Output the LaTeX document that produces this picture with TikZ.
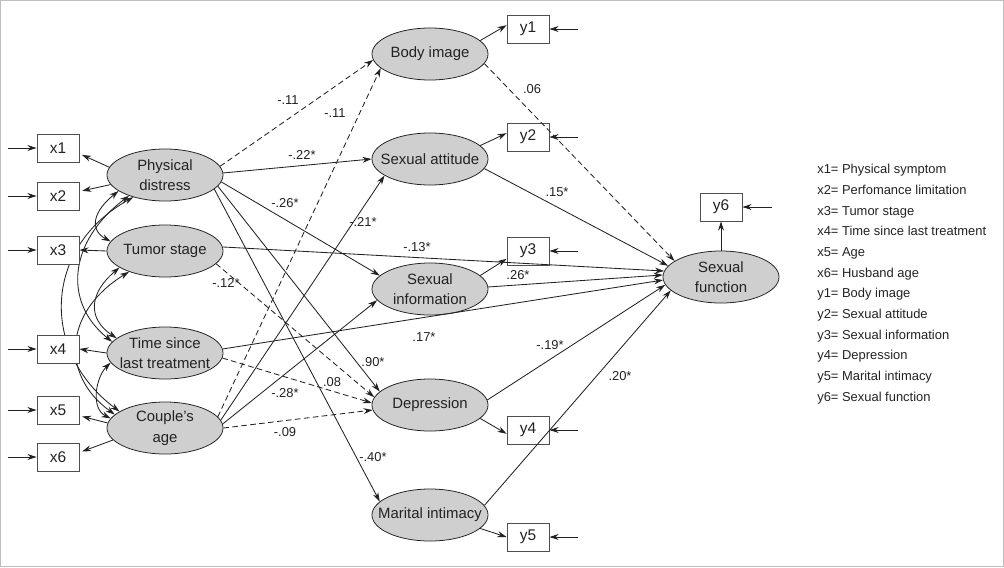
\documentclass[tikz,border=0pt]{standalone}
\usepackage{fontspec}
\setmainfont{Liberation Sans}
\definecolor{mFill}{HTML}{CFCFCF}
\definecolor{mInk}{HTML}{222222}
\definecolor{mFrame}{HTML}{BEBEBE}
\usetikzlibrary{arrows.meta,shapes.geometric,backgrounds}
\tikzset{
  lat/.style={ellipse, draw=mInk, fill=mFill, line width=0.55pt, minimum width=2.9cm, minimum height=1.3cm, inner xsep=-0.8cm, inner ysep=-0.3cm, align=center, font=\fontsize{10.6}{14.5}\selectfont, text=mInk},
  obs/.style={rectangle, draw=mInk!80, fill=white, line width=0.6pt, minimum width=1.05cm, minimum height=0.7cm, inner sep=0pt, font=\fontsize{11}{12}\selectfont, text=mInk},
  lbl/.style={inner sep=0pt, font=\fontsize{9.2}{11}\selectfont, text=mInk},
  eff/.style={-{Stealth[length=6.5pt,width=4.2pt]}, draw=mInk, line width=0.6pt},
  effd/.style={eff, dash pattern=on 4pt off 2.4pt},
  cov/.style={{Stealth[length=6.5pt,width=4.2pt]}-{Stealth[length=6.5pt,width=4.2pt]}, draw=mInk, line width=0.6pt}
}
\newcommand{\errarr}[3]{%
 \coordinate (e#1) at (#2);%
 \draw[eff] (e#1) -- (#1.#3);}

\begin{document}
\begin{tikzpicture}[x=0.025cm,y=-0.025cm]
\useasboundingbox (0,0) rectangle (1004,567);
\draw[mFrame, line width=1pt] (0.7,0.7) rectangle (1003.3,566.3);

\node[obs] (x1) at (58,148) {x1};
\node[obs] (x2) at (58,196) {x2};
\node[obs] (x3) at (58,250) {x3};
\node[obs] (x4) at (58,349) {x4};
\node[obs] (x5) at (58,410) {x5};
\node[obs] (x6) at (58,457) {x6};

\node[lat] (pd) at (165,175) {Physical\\distress};
\node[lat] (ts) at (165,251) {Tumor stage};
\node[lat] (tl) at (165,353) {Time since\\last treatment};
\node[lat] (ca) at (165,428) {Couple's\\age};

\node[lat] (bi) at (430,54) {Body image};
\node[lat] (sa) at (430,159) {Sexual attitude};
\node[lat] (si) at (430,289) {Sexual\\information};
\node[lat] (dep) at (430,405) {Depression};
\node[lat] (mi) at (430,515) {Marital intimacy};
\node[lat] (sf) at (721,277) {Sexual\\function};

\node[obs] (y1) at (528,29) {y1};
\node[obs] (y2) at (528,137) {y2};
\node[obs] (y3) at (528,251) {y3};
\node[obs] (y4) at (528,430) {y4};
\node[obs] (y5) at (528,537) {y5};
\node[obs] (y6) at (721,207) {y6};

\begin{pgfonlayer}{background}
\draw[cov] (pd.199) .. controls +(-25,20) and +(-22,-12) .. (ts.170);
\draw[cov] (pd.210) .. controls +(-60,45) and +(-50,-40) .. (tl.168);
\draw[cov] (pd.215) .. controls +(-90,50) and +(-80,-60) .. (ca.160);
\draw[cov] (ts.200) .. controls +(-30,25) and +(-30,-20) .. (tl.163);
\draw[cov] (ts.210) .. controls +(-65,40) and +(-55,-40) .. (ca.165);
\draw[cov] (tl.190) .. controls +(-15,15) and +(-20,-10) .. (ca.170);
\end{pgfonlayer}

\draw[eff, shorten >=2pt] (pd.172) -- (x1.345);
\draw[eff, shorten >=2pt] (pd.190) -- (x2.12);
\draw[eff] (ts.west) -- (x3.east);
\draw[eff] (tl.west) -- (x4.east);
\draw[eff, shorten >=2pt] (ca.175) -- (x5.345);
\draw[eff, shorten >=2pt] (ca.193) -- (x6.12);

\errarr{x1}{8,148}{west}
\errarr{x2}{8,196}{west}
\errarr{x3}{8,250}{west}
\errarr{x4}{8,349}{west}
\errarr{x5}{8,410}{west}
\errarr{x6}{8,457}{west}
\errarr{y1}{578,29}{east}
\errarr{y2}{578,137}{east}
\errarr{y3}{578,251}{east}
\errarr{y4}{578,430}{east}
\errarr{y5}{578,537}{east}
\errarr{y6}{772,207}{east}

\draw[effd] (pd.9) -- (bi.186);
\draw[eff] (pd.2) -- (sa.180);
\draw[eff] (pd.353) -- (si.165);
\draw[eff] (pd.348) -- (dep.165);
\draw[eff] (pd.344) -- (mi.165);
\draw[eff] (ts.4) -- (sf.174);
\draw[effd] (ts.346) -- (dep.172);
\draw[eff] (tl.4) -- (sf.183);
\draw[effd] (tl.355) -- (dep.178);
\draw[effd] (ca.12) -- (bi.196);
\draw[eff] (ca.8) -- (sa.200);
\draw[eff] (ca.4) -- (si.192);
\draw[effd] (ca.0) -- (dep.185);
\draw[effd] (bi.350) -- (sf.161);
\draw[eff] (sa.350) -- (sf.168);
\draw[eff] (si.2) -- (sf.178);
\draw[eff] (dep.5) -- (sf.188);
\draw[eff] (mi.10) -- (sf.195);

\draw[eff] (bi.15) -- (y1.170);
\draw[eff] (sa.15) -- (y2.170);
\draw[eff] (si.15) -- (y3.200);
\draw[eff] (dep.345) -- (y4.190);
\draw[eff] (mi.345) -- (y5.180);
\draw[eff] (sf.north) -- (y6.south);

\node[lbl] (w1) at (288,100) {-.11};
\node[lbl] (w2) at (335,113) {-.11};
\node[lbl] (w3) at (302,155) {-.22*};
\node[lbl] (w4) at (285,203) {-.26*};
\node[lbl] (w5) at (363,222) {-.21*};
\node[lbl] (w6) at (417,247) {-.13*};
\node[lbl] (w7) at (226,283) {-.12*};
\node[lbl] (w8) at (424,337) {.17*};
\node[lbl] (w9) at (373,362) {.90*};
\node[lbl] (w10) at (332,382) {.08};
\node[lbl] (w11) at (285,393) {-.28*};
\node[lbl] (w12) at (285,432) {-.09};
\node[lbl] (w13) at (373,457) {-.40*};
\node[lbl] (w14) at (532,89) {.06};
\node[lbl] (w15) at (557,192) {.15*};
\node[lbl] (w16) at (518,275) {.26*};
\node[lbl] (w17) at (550,345) {-.19*};
\node[lbl] (w18) at (620,376) {.20*};

\node[lbl, anchor=north west, align=left, font=\fontsize{9.2}{14.7}\selectfont] (legend) at (817,164) {x1= Physical symptom\\x2= Perfomance limitation\\x3= Tumor stage\\x4= Time since last treatment\\x5= Age\\x6= Husband age\\y1= Body image\\y2= Sexual attitude\\y3= Sexual information\\y4= Depression\\y5= Marital intimacy\\y6= Sexual function};
\end{tikzpicture}
\end{document}
